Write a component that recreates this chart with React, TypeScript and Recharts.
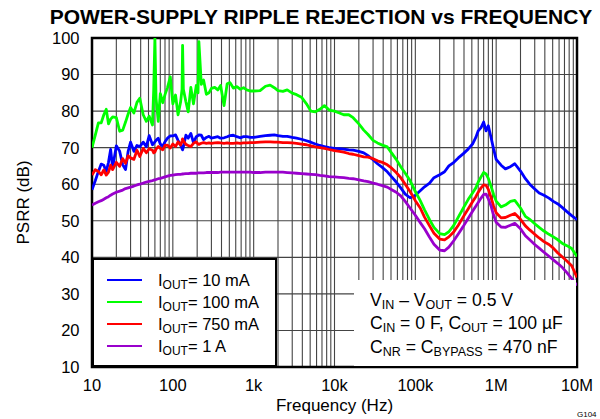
import { LineChart, Line, XAxis, YAxis, CartesianGrid, ReferenceArea } from "recharts";

/* ── palette / fonts ── */
const FONT = '"Liberation Sans", Arial, Helvetica, sans-serif';
const C = {
  blue: "#0000FF",
  green: "#00FF00",
  red: "#FF0000",
  purple: "#9900CC",
  grid: "#444444",
};

/* ── data ── */
// frequency points, Hz
const freq = [
  10, 11, 12, 13, 14, 15, 16, 17, 18, 20, 22, 24, 26, 28, 30, 33, 36, 39, 43, 47, 51, 56, 58, 60, 62, 66, 70, 75, 80, 86, 93,
  100, 108, 116, 125, 130, 132, 135, 145, 155, 167, 180, 195, 205, 210, 225, 240, 260, 280, 300, 330, 360, 390, 430, 470, 510, 560, 620, 680, 750, 820, 910,
  1000, 1200, 1400, 1600, 1800, 2000, 2300, 2600, 3000, 3400, 3900, 4500, 5100, 5800, 6600, 7500, 8600,
  10000, 11500, 13000, 15000, 17000, 20000, 23000, 26000, 30000, 34000, 39000, 45000, 51000, 58000, 66000, 75000, 86000,
  100000, 115000, 130000, 150000, 170000, 200000, 230000, 260000, 300000, 340000, 390000, 450000, 510000, 560000, 600000, 650000, 700000, 750000, 800000, 860000, 930000,
  1000000, 1150000, 1300000, 1500000, 1700000, 2000000, 2300000, 2600000, 3000000, 3400000, 3900000, 4500000, 5100000, 5800000, 6600000, 7500000, 8600000, 10000000,
];

// PSRR, dB
const iout10mA = [
  58.5, 61, 63.5, 65.5, 65.2, 63.5, 66, 69.5, 64.5, 70.5, 69, 65.3, 64, 69, 71.5, 69, 70.6, 70.3, 71.5, 70.3, 73.3, 70.8, 71.2, 71.6, 72, 72.6, 71, 70.4, 71.6, 72.6, 73.2,
  73.2, 73.5, 72, 70.7, 69.8, 69.4, 70.2, 73.4, 72.6, 73.9, 71.4, 73, 73.3, 73.5, 73.4, 72.2, 72.8, 73.1, 72.6, 72.8, 73, 72.6, 72.7, 73, 73.3, 73.4, 73, 72.7, 73, 73, 72.8,
  72.8, 73.1, 73.3, 73.4, 73.5, 73.3, 73.1, 73.1, 72.8, 72.6, 72.3, 71.9, 71.5, 71, 70.6, 70.3, 70,
  69.8, 69.7, 69.6, 69.4, 69.3, 69, 68.6, 67.8, 66.7, 65.6, 64.6, 63.4, 62, 60.6, 59, 57.3, 56.3,
  57, 58.2, 59.3, 60.3, 61.8, 62.6, 63.4, 65, 66, 67.2, 68.3, 69.6, 71, 72.8, 74.6, 75.5, 77, 74.6, 76, 73, 69.6,
  66.8, 65.2, 64.2, 64.8, 65.6, 63.6, 61.5, 60, 58.7, 57.6, 57, 56.2, 55.3, 54.6, 53.6, 52.5, 51.4, 50.3,
];

const iout100mA = [
  70, 73.5, 76.8, 76.8, 79, 80.5, 76.5, 77.8, 78.4, 78.2, 74.5, 74.8, 77, 79.2, 81, 79.5, 82.4, 83.5, 79, 77.2, 78.6, 76.2, 86, 100, 83.5, 77.2, 84.8, 82.3, 84.5, 86.5, 89.4,
  82, 84.4, 79, 82.6, 86, 98, 86, 82.6, 79.8, 86.5, 82, 87, 85, 99, 87.3, 88.5, 84.6, 85, 86.2, 86.5, 85.8, 87, 81.5, 87.5, 87.8, 86.3, 86.7, 86, 86.4, 85.8, 85.5,
  85.5, 85.6, 86.8, 87.1, 86.4, 85.6, 85.4, 85.8, 84.9, 84.5, 83.8, 82, 80, 79.8, 80.5, 81.5, 80.3,
  80, 79.5, 79, 79, 78.2, 76.5, 74.8, 73.6, 72, 71.3, 70.7, 70.2, 68.5, 66.8, 64.8, 63, 61,
  58, 55.5, 53, 50.3, 48.2, 46.5, 46.2, 47, 48.8, 51, 53.4, 55.8, 57.6, 59, 60.6, 62, 63.2, 62.8, 61.6, 59.6, 57.2,
  55.4, 53.8, 54.3, 55.3, 55.6, 53.5, 51.2, 50.4, 49.2, 48.2, 47.2, 46.3, 45.6, 44.8, 43.8, 43.2, 42.4, 40.2,
];

const iout750mA = [
  62.5, 64, 63.5, 62.6, 63.9, 62.5, 63.3, 65.2, 64, 66, 64.9, 67, 65.7, 67.8, 67.2, 66.8, 69.3, 67.6, 69.8, 68.6, 69.7, 69.3, 68.6, 68.8, 69.6, 70.3, 69.8, 69.4, 70.6, 70.7, 69.9,
  71, 70.3, 71.6, 70.7, 71.8, 72.4, 71.9, 70.9, 70.6, 70.3, 71.2, 71.6, 71, 70.9, 71.2, 71.4, 71.2, 71.3, 71.2, 71.3, 71.4, 71.3, 71.2, 71.3, 71.2, 71.2, 71.3, 71.2, 71.3, 71.3, 71.4,
  71.4, 71.5, 71.6, 71.6, 71.5, 71.5, 71.4, 71.4, 71.3, 71.2, 71, 70.8, 70.5, 70.2, 70, 69.8, 69.5,
  69.2, 69, 68.8, 68.4, 68.2, 67.8, 67.5, 67.4, 67, 66.4, 66, 65.3, 64.4, 63.2, 61.8, 60, 58,
  55.5, 53.5, 51, 48.6, 46.6, 45, 44.8, 45.6, 47, 48.8, 51, 53.2, 55.2, 56.6, 57.8, 59, 59.8, 59.7, 58.6, 56.5, 54,
  52.2, 50.8, 50.9, 51.5, 52, 50.4, 48.6, 47.5, 46.3, 45.3, 44.3, 43.5, 42.5, 41.2, 40.1, 39, 37.7, 34.5,
];

const iout1A = [
  54.3, 54.8, 55.2, 55.5, 55.9, 56.3, 56.6, 57, 57.3, 57.8, 58.1, 58.4, 58.8, 59, 59.2, 59.5, 59.8, 60, 60.3, 60.6, 60.8, 61, 61.1, 61.2, 61.3, 61.5, 61.6, 61.8, 62, 62.2, 62.4,
  62.5, 62.6, 62.7, 62.7, 62.8, 62.8, 62.8, 62.9, 62.9, 63, 63, 63, 63.1, 63.1, 63.1, 63.1, 63.2, 63.2, 63.2, 63.2, 63.2, 63.3, 63.3, 63.3, 63.3, 63.3, 63.3, 63.3, 63.3, 63.3, 63.3,
  63.2, 63.2, 63.3, 63.3, 63.3, 63.3, 63.3, 63.2, 63.1, 63, 62.9, 62.8, 62.7, 62.6, 62.4, 62.3, 62.1,
  62, 61.9, 61.8, 61.6, 61.5, 61.2, 60.9, 60.7, 60.3, 60, 59.6, 59.2, 58.5, 57.8, 56.8, 55.3, 53.5,
  51.5, 49.5, 47.8, 45.5, 43.6, 42, 41.8, 42.8, 44.6, 46.4, 48.4, 50.6, 52.6, 54, 55, 56.2, 57.2, 57.3, 56, 54.2, 51.5,
  49.6, 48.3, 48.2, 48.8, 49.3, 47.8, 45.9, 44.8, 43.5, 42.5, 41.4, 40.3, 39.3, 38.3, 37.2, 35.8, 34.2, 32.3,
];

// axes
const yTicks = [10, 20, 30, 40, 50, 60, 70, 80, 90, 100];
const decades = [10, 100, 1000, 10000, 100000, 1000000, 10000000];
const decadeLabels = ["10", "100", "1k", "10k", "100k", "1M", "10M"];

// legend entries
const seriesKeys = ["b", "g", "r", "p"];
const seriesNames = ["10 mA", "100 mA", "750 mA", "1 A"];
const seriesColors = [C.blue, C.green, C.red, C.purple];

/* ── derived ── */
const data = freq.map((f, i) => ({
  f,
  b: iout10mA[i],
  g: iout100mA[i],
  r: iout750mA[i],
  p: iout1A[i],
}));

// every 1..9 x decade for the log grid
const xGrid: number[] = [];
decades.forEach((d, i) => {
  if (i === decades.length - 1) {
    xGrid.push(d);
    return;
  }
  for (let k = 1; k < 10; k++) xGrid.push(d * k);
});

const fmtX = (v: number) => {
  const i = decades.findIndex((d) => Math.abs(d - v) / d < 1e-6);
  return i >= 0 ? decadeLabels[i] : "";
};

const txt = { fill: "#000", fontSize: 16.5, fontFamily: FONT };
const sub = { fontSize: 12.5, position: "relative" as const, top: 3 };

export default function App() {
  return (
    <div
      style={{
        position: "absolute",
        left: 0,
        top: 0,
        width: 600,
        height: 419,
        background: "#fff",
        fontFamily: FONT,
        color: "#000",
        overflow: "hidden",
      }}
    >
      <LineChart width={600} height={419} data={data} margin={{ top: 38, right: 23, bottom: 6, left: 0 }}>
        <CartesianGrid stroke={C.grid} strokeWidth={1.1} verticalValues={xGrid} horizontalValues={yTicks} />
        <XAxis
          dataKey="f"
          type="number"
          scale="log"
          domain={[10, 10000000]}
          allowDataOverflow
          ticks={xGrid}
          interval={0}
          tickFormatter={fmtX}
          tickLine={false}
          axisLine={false}
          tickSize={6}
          tickMargin={6.5}
          height={46}
          tick={txt}
          label={{ value: "Frequency (Hz)", position: "insideBottom", offset: 2, style: { ...txt, fontSize: 17 } }}
        />
        <YAxis
          type="number"
          domain={[10, 100]}
          ticks={yTicks}
          interval={0}
          allowDataOverflow
          tickLine={false}
          axisLine={false}
          tickSize={6}
          tickMargin={6.5}
          width={92}
          tick={txt}
          label={{
            value: "PSRR (dB)",
            angle: -90,
            position: "insideLeft",
            offset: 22.5,
            style: { ...txt, fontSize: 17, textAnchor: "middle" },
          }}
        />
        {seriesKeys.map((k, i) => (
          <Line
            key={k}
            dataKey={k}
            type="linear"
            stroke={seriesColors[i]}
            strokeWidth={2.8}
            strokeLinejoin="round"
            dot={false}
            isAnimationActive={false}
          />
        ))}
        <ReferenceArea x1={10} x2={10000000} y1={10} y2={100} fill="none" stroke="#000" strokeWidth={2.5} ifOverflow="visible" />
      </LineChart>

      {/* title */}
      <div
        style={{
          position: "absolute",
          left: 0,
          top: 9.2,
          width: 642,
          textAlign: "center",
          fontWeight: "bold",
          fontSize: 21,
          lineHeight: "16px",
          whiteSpace: "nowrap",
        }}
      >
        POWER-SUPPLY RIPPLE REJECTION vs FREQUENCY
      </div>

      {/* legend */}
      <div
        style={{
          position: "absolute",
          left: 92,
          top: 258,
          width: 185,
          height: 109,
          boxSizing: "border-box",
          border: "2px solid #000",
          background: "#fff",
        }}
      >
        {seriesNames.map((nm, i) => (
          <div
            key={nm}
            style={{
              position: "absolute",
              left: 13,
              top: 9 + i * 22,
              height: 22,
              display: "flex",
              alignItems: "center",
              whiteSpace: "nowrap",
              fontSize: 16.5,
            }}
          >
            <span style={{ display: "inline-block", width: 35, height: 2.6, background: seriesColors[i] }} />
            <span style={{ marginLeft: 16 }}>
              I<span style={{ ...sub, fontSize: 12 }}>OUT</span>= {nm}
            </span>
          </div>
        ))}
      </div>

      {/* conditions */}
      <div
        style={{
          position: "absolute",
          left: 354,
          top: 280,
          width: 221.5,
          height: 85.5,
          background: "#fff",
        }}
      >
        <div style={{ position: "absolute", left: 16, top: 9.5, fontSize: 17.6, lineHeight: "21.7px", whiteSpace: "nowrap" }}>
          <div>
            V<span style={sub}>IN</span> – V<span style={sub}>OUT</span> = 0.5 V
          </div>
          <div>
            C<span style={sub}>IN</span> = 0 F, C<span style={sub}>OUT</span> = 100 µF
          </div>
          <div>
            C<span style={sub}>NR</span> = C<span style={sub}>BYPASS</span> = 470 nF
          </div>
        </div>
      </div>

      <div style={{ position: "absolute", left: 577, top: 410, fontSize: 8 }}>G104</div>
    </div>
  );
}
